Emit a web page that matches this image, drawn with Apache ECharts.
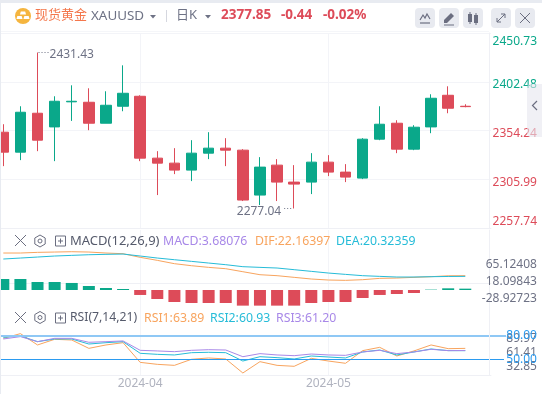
<!DOCTYPE html>
<html><head><meta charset="utf-8">
<style>html,body{margin:0;padding:0;background:#fff}#c{width:542px;height:394px}</style>
<script src="https://cdn.jsdelivr.net/npm/echarts@6/dist/echarts.min.js"></script>
</head><body><div id="c"></div>
<script>
const categories=['t0','t1','t2','t3','t4','t5','t6','t7','2024-04','t9','t10','t11','t12','t13','t14','t15','t16','t17','t18','2024-05','t20','t21','t22','t23','t24','t25','t26','t27','t28'];
const opens =[2352.55,2332.80,2371.32,2357.79,2382.60,2382.18,2361.44,2378.23,2388.11,2326.87,2321.94,2315.02,2331.81,2336.75,2334.78,2290.33,2319.96,2303.17,2303.17,2322.92,2313.05,2307.12,2345.64,2361.44,2335.77,2357.79,2389.10,2378.23];
const closes=[2332.80,2372.31,2344.65,2383.17,2383.17,2361.44,2379.22,2391.08,2326.87,2321.94,2315.02,2331.81,2336.75,2334.78,2285.39,2317.99,2303.17,2301.19,2322.92,2313.05,2308.11,2345.64,2360.45,2335.77,2357.49,2386.14,2376.26,2377.85];
const lows  =[2318.97,2324.90,2333.79,2323.91,2363.72,2354.53,2361.44,2373.30,2323.91,2290.33,2311.07,2304.16,2325.89,2318.97,2284.40,2280.45,2284.40,2277.04,2291.31,2309.10,2303.17,2306.14,2344.65,2331.81,2334.78,2351.57,2371.32,2377.25];
const highs =[2360.45,2378.23,2431.43,2388.11,2398.97,2396.01,2393.05,2418.73,2389.10,2333.79,2336.75,2344.65,2352.55,2346.63,2335.77,2327.86,2325.89,2319.96,2331.81,2329.84,2320.95,2346.63,2378.23,2364.41,2359.47,2390.09,2397.98,2380.21];
const macdHist=[30.4,30.4,22.1,22.1,19.4,11.1,5.5,2.8,-13.8,-24.9,-33.2,-36,-36,-36,-43.3,-43.3,-43.3,-43.3,-36,-33.2,-33.2,-22.1,-13.8,-11.1,-8.3,1.0,4.6,3.68];
const dif=[84.9,84.9,86.7,87.6,88.5,87.6,84.9,83.0,72.9,64.6,55.4,49.8,45.2,41.5,33.2,24.9,22.2,17.6,13.0,10.2,9.3,11.1,14.8,15.7,17.6,19.4,21.9,22.16];
const dea=[68.3,71.0,73.8,76.6,78.4,80.2,81.2,82.1,76.6,71.0,66.4,61.8,57.2,52.6,47.1,45.2,43.4,38.8,34.2,29.5,25.8,22.2,20.3,18.5,18.5,19.4,20.0,20.32];
const rsi1=[76.6,82.6,68.2,75.4,74.5,63.9,68.2,71.1,46.1,43.6,42.3,50.0,51.7,50.4,32.6,47.0,42.3,41.1,51.2,47.8,44.9,61.0,65.2,54.2,60.6,68.2,63.5,63.89];
const rsi2=[77.9,79.6,72.4,75.8,75.8,69.4,71.1,72.4,57.6,56.3,55.5,58.4,58.9,58.4,47.8,53.3,52.1,50.4,54.2,52.9,51.7,59.3,61.8,55.5,59.3,63.1,61.0,60.93];
const rsi3=[75.8,78.8,72.4,76.6,76.6,71.6,72.4,73.3,61.4,60.6,59.7,61.4,62.2,61.8,53.3,57.2,55.5,54.6,56.7,55.5,55.0,59.3,61.4,57.2,59.3,62.7,61.0,61.20];
const priceTicks=[2257.74,2305.99,2354.24,2402.48,2450.73];
const priceInnerTicks=[2305.99,2354.24,2402.48];
const macdTicks=[-28.92723,18.09843,65.12408];
const rsiLevelTicks=[50,80];
const rsiTicks=[32.85,61.41,89.97];
const monthLabels=['2024-04','2024-05'];

const GREEN='#0aa88a',RED='#dd4b59',GRAY='#6e7285',GRID='#f3f4f8',ORANGE='#f8a45e',CYAN='#26bcd8',PURPLE='#a888e8',BLUE='#2b9bf0';
const FONT='"Noto Sans","Noto Sans CJK SC",sans-serif';
const isMonth=(i,v)=>monthLabels.includes(v);
const candle=opens.map((o,i)=>[o,closes[i],lows[i],highs[i]]);
const L=-5.25,W=496.2;
const grids=[{left:L,width:W,top:33,height:195,outerBoundsMode:'none'},{left:L,width:W,top:230,height:76,outerBoundsMode:'none'},{left:L,width:W,top:306,height:69,outerBoundsMode:'none'}];
const xa=(g,label)=>({type:'category',gridIndex:g,data:categories,boundaryGap:true,
  axisLine:{show:true,lineStyle:{color:'#eff0f5'}},axisTick:{show:false},
  splitLine:{show:true,alignWithLabel:true,interval:isMonth,lineStyle:{color:GRID,width:1}},
  axisLabel:label?{show:true,interval:isMonth,color:'#b0b3bf',fontSize:12,fontFamily:FONT,margin:3,formatter:v=>v}:{show:false}});
const lab=(o)=>Object.assign({margin:48,align:'right',fontSize:12,fontFamily:FONT,color:GRAY},o);
const yAxis=[
 {gridIndex:0,position:'right',offset:-2,min:2257.74,max:2450.73,
  axisLine:{show:true,lineStyle:{color:'#eff0f5'}},axisTick:{show:false,customValues:priceTicks},
  splitLine:{show:true,lineStyle:{color:GRID}},
  axisLabel:lab({customValues:priceInnerTicks,formatter:v=>v.toFixed(2),
    color:v=>v>2380?GREEN:RED,verticalAlign:'top',lineHeight:6})},
 {gridIndex:1,position:'right',offset:-2,min:-61.66,max:148.58,
  axisLine:{show:true,lineStyle:{color:'#eff0f5'}},axisTick:{show:false,customValues:macdTicks},splitLine:{show:false},
  axisLabel:lab({customValues:macdTicks,formatter:v=>v.toFixed(5),verticalAlign:'top',lineHeight:8})},
 {gridIndex:1,show:false,min:-44.3,max:165.9,splitLine:{show:false}},
 {gridIndex:2,position:'right',offset:-2,min:30.05,max:117.7,
  axisLine:{show:true,lineStyle:{color:'#eff0f5'}},axisTick:{show:false,customValues:rsiLevelTicks},splitLine:{show:false},
  axisLabel:lab({customValues:rsiLevelTicks,formatter:v=>v.toFixed(2),color:BLUE}),z:5},
 {gridIndex:2,position:'right',offset:-2,min:16.8,max:154.8,
  axisLine:{show:false},axisTick:{show:false,customValues:rsiTicks},splitLine:{show:false},
  axisLabel:lab({customValues:rsiTicks,formatter:v=>v.toFixed(2)})}
];
const line=(name,data,color,x,y)=>({name,type:'line',data,xAxisIndex:x,yAxisIndex:y,symbol:'none',smooth:false,lineStyle:{color,width:1},itemStyle:{color},silent:true,animation:false,z:3});
const level=(v,c,w,xEnd)=>[{x:1,yAxis:v,lineStyle:{color:c,width:w,type:'solid'}},{x:xEnd,yAxis:v}];
const series=[
 {type:'candlestick',name:'XAUUSD',data:candle,xAxisIndex:0,yAxisIndex:0,barWidth:11,animation:false,
  itemStyle:{color:GREEN,color0:RED,borderColor:GREEN,borderColor0:RED,borderColorDoji:RED,borderWidth:1}},
 {type:'bar',name:'MACD',xAxisIndex:1,yAxisIndex:2,barWidth:12,animation:false,
  data:macdHist.map(v=>({value:v,itemStyle:{color:v>=0?GREEN:RED}}))},
 line('DIF',dif,ORANGE,1,1),
 line('DEA',dea,CYAN,1,1),
 Object.assign(line('RSI1',rsi1,ORANGE,2,3),{markLine:{silent:true,symbol:'none',animation:false,label:{show:false},lineStyle:{type:'solid'},
   data:[level(80,'#8fc8f5',2,506),level(50,BLUE,1,504)]}}),
 line('RSI2',rsi2,CYAN,2,3),
 line('RSI3',rsi3,PURPLE,2,3)
];
const txt=(x,y,text,fill,size,weight,align)=>({type:'text',x,y,silent:true,z:20,style:{text,fill,fontSize:size||12,fontWeight:weight||'normal',fontFamily:FONT,verticalAlign:'middle',align:align||'left'}});
const seg=(x1,y1,x2,y2,c,w)=>({type:'line',silent:true,z:21,shape:{x1,y1,x2,y2},style:{stroke:c||'#6b6e80',lineWidth:w||1}});
const rect=(x,y,w,h,f,r,z)=>({type:'rect',silent:true,z:z||19,shape:{x,y,width:w,height:h,r:r||0},style:{fill:f}});
const tri=(x,y,c)=>({type:'polygon',silent:true,z:21,shape:{points:[[x,y],[x+6,y],[x+3,y+3.5]]},style:{fill:c}});
const closeIcon=(x,y)=>[seg(x,y,x+11,y+11),seg(x,y+11,x+11,y)];
const gear=(cx,cy)=>[{type:'polygon',silent:true,z:21,shape:{points:[[cx,cy-6],[cx+5.2,cy-3],[cx+5.2,cy+3],[cx,cy+6],[cx-5.2,cy+3],[cx-5.2,cy-3]]},style:{stroke:'#6b6e80',fill:null}},
  {type:'circle',silent:true,z:21,shape:{cx,cy,r:2},style:{stroke:'#6b6e80',fill:null}}];
const plus=(x,y)=>[{type:'rect',silent:true,z:21,shape:{x:x+.5,y:y+.5,width:10,height:10},style:{stroke:'#6b6e80',fill:null}},seg(x+3,y+5.5,x+8,y+5.5),seg(x+5.5,y+3,x+5.5,y+8)];
const ingot=(x,y)=>({type:'polygon',silent:true,z:22,shape:{points:[[x-2.2,y],[x+2.2,y],[x+3,y+3],[x-3,y+3]]},style:{fill:'#fff'}});
const btn=[415,439,463,491,515].map(x=>rect(x,8,20,20,'#e8eaf0',4));
const graphicEls=[
 rect(0,0,542,3,'#e8ebf1',0,30),rect(0,0,1,394,'#e8ebf1',0,30),rect(0,31,489,1,'#f5f6f9',0,2),
 {type:'circle',silent:true,z:20,shape:{cx:23,cy:16,r:8},style:{fill:'#f5b53f'}},
 ingot(23,11.5),ingot(19.5,16),ingot(26.5,16),
 txt(35,15,'现货黄金','#f4774c',13),
 txt(91,16.5,'XAUUSD',GRAY,13.4),tri(150,15,GRAY),
 seg(166.5,10,166.5,22,'#d5d7df'),
 txt(176,15,'日K',GRAY,13),tri(205,15,GRAY),
 txt(221,15.5,'2377.85',RED,13.5,'bold'),txt(281,15.5,'-0.44',RED,13.5,'bold'),txt(323,15.5,'-0.02%',RED,13.5,'bold'),
 ...btn,
 {type:'polyline',silent:true,z:21,shape:{points:[[420,20],[423,15],[425,18],[427,14],[430,19]]},style:{stroke:'#6b6e80',fill:null,lineWidth:1.2}},seg(420,23,430,23,'#6b6e80',1.2),
 {type:'polygon',silent:true,z:21,shape:{points:[[444,20],[451,13],[454,16],[447,23],[444,23]]},style:{fill:'#6b6e80'}},seg(444,25,454,25,'#6b6e80',1),
 rect(468,14,4,8,'#6b6e80',0,21),seg(470,12,470,24),rect(474,15,4,8,'#6b6e80',0,21),seg(476,13,476,25),
 seg(497,22,505,14),seg(501,14,505,14),seg(505,14,505,18),seg(497,18,497,22),seg(497,22,501,22),
 seg(520,13,530,23),seg(520,23,530,13),
 ...closeIcon(15,235),...gear(40,241),...plus(55,235.5),
 txt(70,241.5,'MACD(12,26,9)','#555a6b',13),
 txt(163,241.5,'MACD:3.68076',PURPLE,12.3),txt(255,241.5,'DIF:22.16397',ORANGE,12.3),txt(336,241.5,'DEA:20.32359',CYAN,12.3),
 ...closeIcon(15,312),...gear(40,317.5),...plus(55,312.5),
 txt(70,318,'RSI(7,14,21)','#555a6b',12.2),
 txt(144,318,'RSI1:63.89',ORANGE,12.3),txt(210,318,'RSI2:60.93',CYAN,12.3),txt(276,318,'RSI3:61.20',PURPLE,12.3),
 rect(527,84,15,53,'rgba(230,230,238,0.6)',[4,0,0,4],25),
 {type:'polyline',silent:true,z:26,shape:{points:[[537,101],[532.5,105.5],[537,110]]},style:{stroke:'#6b6e80',fill:null,lineWidth:1.2}}
];
const chart=echarts.init(document.getElementById('c'),null,{renderer:'canvas'});
chart.setOption({animation:false,backgroundColor:'#fff',grid:grids,
  xAxis:[xa(0,false),xa(1,false),xa(2,true)],yAxis,series,graphic:graphicEls,textStyle:{fontFamily:FONT}});
const hiIdx=highs.indexOf(Math.max(...highs)),loIdx=lows.indexOf(Math.min(...lows));
const hp=chart.convertToPixel({gridIndex:0},[hiIdx,highs[hiIdx]]),lp=chart.convertToPixel({gridIndex:0},[loIdx,lows[loIdx]]);
const topPx=chart.convertToPixel({yAxisIndex:0},priceTicks[4]),botPx=chart.convertToPixel({yAxisIndex:0},priceTicks[0]);
const dot=(x1,x2,y)=>({type:'line',silent:true,z:21,shape:{x1,y1:y,x2,y2:y},style:{stroke:GRAY,lineWidth:1,lineDash:[1,2]}});
chart.setOption({graphic:graphicEls.concat([
  txt(537,topPx+9,priceTicks[4].toFixed(2),GREEN,12,'normal','right'),
  txt(537,botPx-6,priceTicks[0].toFixed(2),RED,12,'normal','right'),
  dot(hp[0]+1,hp[0]+11,hp[1]),txt(hp[0]+12,hp[1]+2.5,highs[hiIdx].toFixed(2),GRAY,12),
  dot(lp[0]-10,lp[0]-1,lp[1]),txt(lp[0]-13,lp[1]+3,lows[loIdx].toFixed(2),GRAY,12,'normal','right')
])});
</script></body></html>
